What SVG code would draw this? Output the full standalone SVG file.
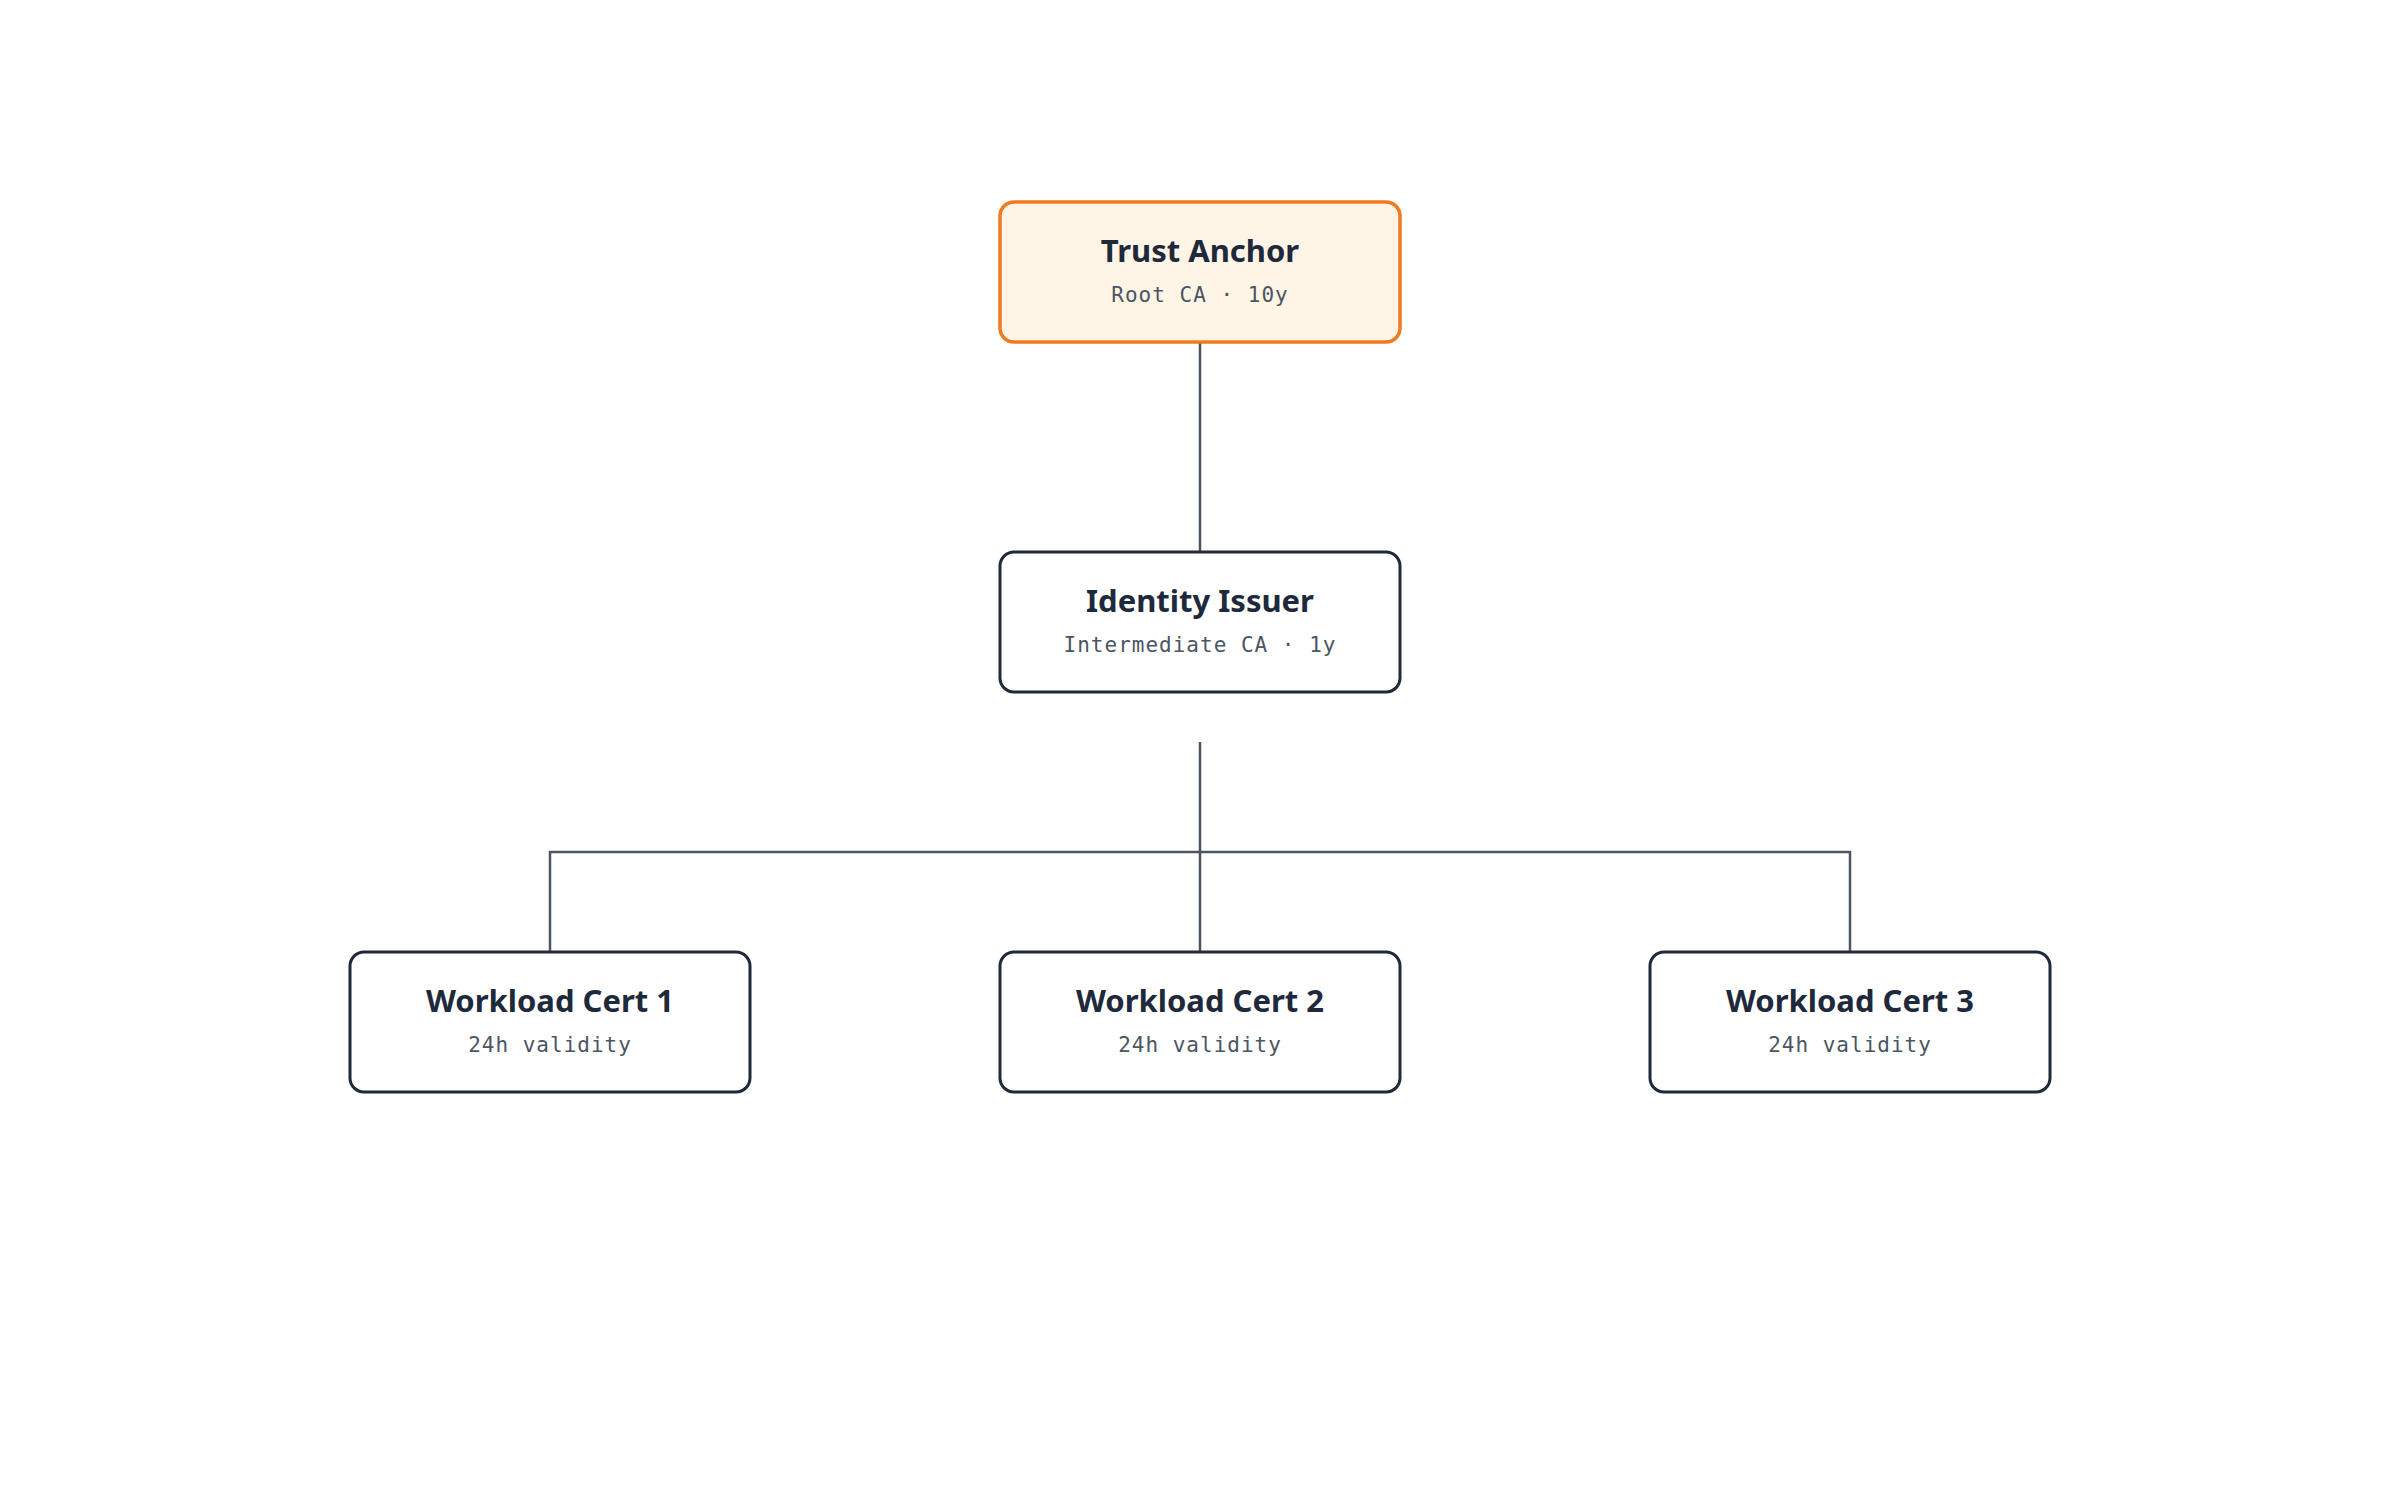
<svg xmlns="http://www.w3.org/2000/svg" width="2400" height="1502" viewBox="0 0 2400 1502">
<style>
.box{fill:#ffffff;stroke:#1e293b;stroke-width:3}
.root{fill:#fff5e6;stroke:#f07b1f;stroke-width:3.5}
.t{font-family:"Noto Sans","Open Sans",sans-serif;font-weight:700;font-size:31px;fill:#1e293b;text-anchor:middle}
.s{font-family:"DejaVu Sans Mono","Liberation Mono",monospace;font-size:21px;fill:#4b5563;text-anchor:middle;letter-spacing:1px}
.c{fill:none;stroke:#4b5563;stroke-width:2.5}
</style>
<rect width="2400" height="1502" fill="#ffffff"/>
<g id="connectors">
<path class="c" d="M1200 342V552"/>
<path class="c" d="M1200 742V952"/>
<path class="c" d="M550 952V852H1850V952"/>
</g>
<g id="trust-anchor"><rect class="root" x="1000" y="202" width="400" height="140" rx="14"/><text class="t" x="1200" y="262">Trust Anchor</text><text class="s" x="1200" y="302">Root CA · 10y</text></g>
<g id="identity-issuer"><rect class="box" x="1000" y="552" width="400" height="140" rx="14"/><text class="t" x="1200" y="612">Identity Issuer</text><text class="s" x="1200" y="652">Intermediate CA · 1y</text></g>
<g id="workload-1"><rect class="box" x="350" y="952" width="400" height="140" rx="14"/><text class="t" x="550" y="1012">Workload Cert 1</text><text class="s" x="550" y="1052">24h validity</text></g>
<g id="workload-2"><rect class="box" x="1000" y="952" width="400" height="140" rx="14"/><text class="t" x="1200" y="1012">Workload Cert 2</text><text class="s" x="1200" y="1052">24h validity</text></g>
<g id="workload-3"><rect class="box" x="1650" y="952" width="400" height="140" rx="14"/><text class="t" x="1850" y="1012">Workload Cert 3</text><text class="s" x="1850" y="1052">24h validity</text></g>
</svg>
